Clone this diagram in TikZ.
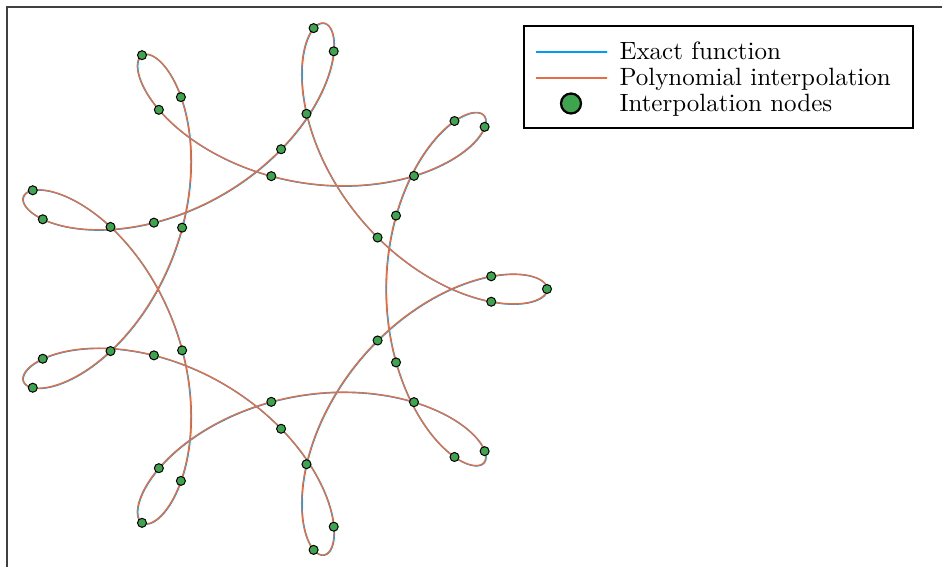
\documentclass[tikz,border=0pt]{standalone}
\definecolor{exactblue}{HTML}{009AFA}
\definecolor{interporange}{HTML}{E36F47}
\definecolor{nodegreen}{HTML}{3EA44E}
\definecolor{framegray}{HTML}{404040}
\tikzset{
  framestyle/.style={draw=framegray, line width=0.6pt},
  exactcurve/.style={draw=exactblue, line width=0.55pt},
  interpcurve/.style={draw=interporange, line width=0.55pt},
  nodedot/.style={circle, fill=nodegreen, draw=black, line width=0.4pt, minimum size=3.6pt, inner sep=0pt},
  legenddot/.style={circle, fill=nodegreen, draw=black, line width=0.9pt, minimum size=8pt, inner sep=0pt},
  legendbox/.style={draw=black, line width=0.45pt, minimum width=155.6pt, minimum height=40.8pt, inner sep=0pt},
  legendtext/.style={anchor=base west, inner sep=0pt, font=\fontsize{10}{12}\selectfont},
}
\begin{document}
\begin{tikzpicture}[x=0.4pt,y=-0.4pt]
\useasboundingbox (0,0) rectangle (942,567);
% axes frame (partially visible)
\draw[framestyle] (7,568) -- (7,7) -- (943,7);
% exact function
\draw[exactcurve, shift={(0.4,0.3)}] plot[domain=0:360, samples=900, variable=\t]
  ({277+189.5*cos(2*\t)+80.5*cos(7*\t)}, {289-189.5*sin(2*\t)+80.5*sin(7*\t)});
% polynomial interpolation
\draw[interpcurve] plot[domain=0:360, samples=900, variable=\t]
  ({277+189.5*cos(2*\t)+80.5*cos(7*\t)}, {289-189.5*sin(2*\t)+80.5*sin(7*\t)});
% interpolation nodes
\foreach \k in {0,...,38} {
  \pgfmathsetmacro\ang{360*\k/39}
  \node[nodedot] (n\k) at ({277+189.5*cos(2*\ang)+80.5*cos(7*\ang)}, {289-189.5*sin(2*\ang)+80.5*sin(7*\ang)}) {};
}
% legend
\node[legendbox, fill=white] (legend) at (718.5,77) {};
\coordinate (la1) at (536,52);
\coordinate (lb1) at (607,52);
\coordinate (la2) at (536,77.5);
\coordinate (lb2) at (607,77.5);
\draw[draw=exactblue, line width=0.8pt] (la1) -- (lb1);
\draw[draw=interporange, line width=0.8pt] (la2) -- (lb2);
\node[legenddot] (ld) at (571,103.5) {};
\node[legendtext] (t1) at (619,59) {Exact function};
\node[legendtext] (t2) at (619,85) {Polynomial interpolation};
\node[legendtext] (t3) at (619,111) {Interpolation nodes};
\end{tikzpicture}
\end{document}
